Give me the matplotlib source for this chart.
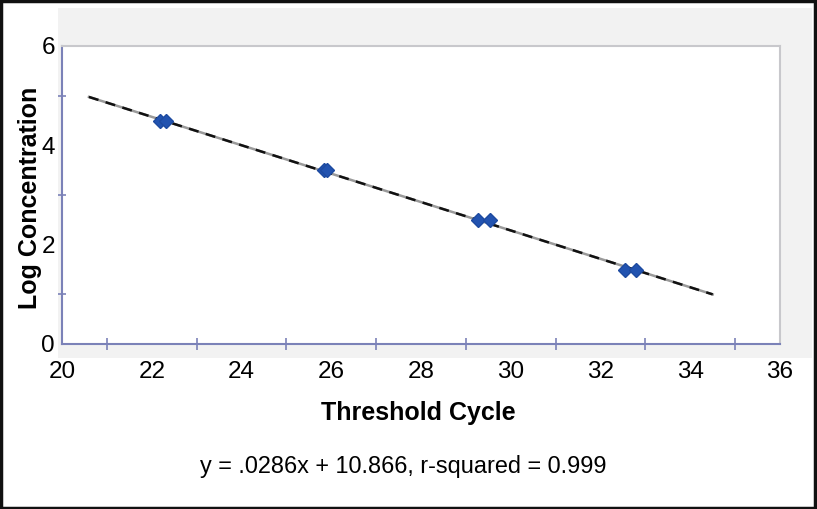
import matplotlib
matplotlib.use("Agg")
import matplotlib.pyplot as plt
from matplotlib.patches import Rectangle
import numpy as np

plt.rcParams['font.family'] = ['Liberation Sans', 'DejaVu Sans']

# Data
ct_values = [22.18, 22.32, 25.83, 25.90, 29.27, 29.53, 32.54, 32.78]
log_conc = [4.5, 4.5, 3.5, 3.5, 2.5, 2.5, 1.5, 1.5]
slope = -0.286
intercept = 10.866
fit_range = [20.6, 34.5]
x_ticks = [20, 22, 24, 26, 28, 30, 32, 34, 36]
y_ticks = [0, 2, 4, 6]
equation = "y = .0286x + 10.866, r-squared = 0.999"

W, H = 817, 509
fig = plt.figure(figsize=(W/100, H/100), dpi=100)
fig.patch.set_facecolor('white')

# gray panel
fig.patches.append(Rectangle((58/W, 1-358/H), (812-58)/W, (358-8)/H,
                             transform=fig.transFigure, facecolor='#f2f2f2',
                             edgecolor='none', zorder=-5))
# outer border
fig.patches.append(Rectangle((0.001, 0.002), 0.997, 0.996, transform=fig.transFigure,
                             facecolor='none', edgecolor='#111111', linewidth=2.5, zorder=10))

l, r, t, b = 62, 780, 46, 344
ax = fig.add_axes([l/W, 1-b/H, (r-l)/W, (b-t)/H])
ax.set_zorder(2)
ax.set_facecolor('white')
ax.set_xlim(20, 36)
ax.set_ylim(0, 6)

xf = np.array(fit_range)
yf = slope*xf + intercept
ax.plot(xf, yf, color='#9a9a9a', lw=1.8, zorder=2)
ax.plot(xf, yf, color='#111111', lw=1.8, dashes=(4, 3), zorder=3)
ax.plot(ct_values, log_conc, linestyle='none', marker='D', markersize=7,
        color='#2253b0', markeredgecolor='#1d4aa0', zorder=4)

axis_col = '#7b82b8'
for s in ['left', 'bottom']:
    ax.spines[s].set_color(axis_col)
    ax.spines[s].set_linewidth(1.5)
for s in ['top', 'right']:
    ax.spines[s].set_color('#c8c8cc')
    ax.spines[s].set_linewidth(1.5)

ax.set_xticks(x_ticks)
ax.set_xticks([21, 23, 25, 27, 29, 31, 33, 35], minor=True)
ax.set_yticks(y_ticks)
ax.set_yticks([1, 3, 5], minor=True)
ax.set_xticklabels([str(v) for v in x_ticks])
ax.set_yticklabels([str(v) for v in y_ticks])
ax.tick_params(axis='both', which='both', direction='inout', color=axis_col, width=1.2)
ax.tick_params(axis='both', which='major', labelsize=17.5)
ax.tick_params(axis='y', which='major', length=0, pad=5)
ax.tick_params(axis='y', which='minor', length=6)
ax.tick_params(axis='x', which='major', length=0, pad=12)
ax.tick_params(axis='x', which='minor', length=8)

fig.text(418/W, 1-413/H, 'Threshold Cycle', ha='center', va='center',
         fontsize=18, fontweight='bold')
fig.text(30/W, 1-198/H, 'Log Concentration', ha='center', va='center',
         rotation=90, fontsize=18, fontweight='bold')
fig.text(403/W, 1-466/H, equation, ha='center', va='center', fontsize=16.9)

fig.savefig('out.png', dpi=100)
